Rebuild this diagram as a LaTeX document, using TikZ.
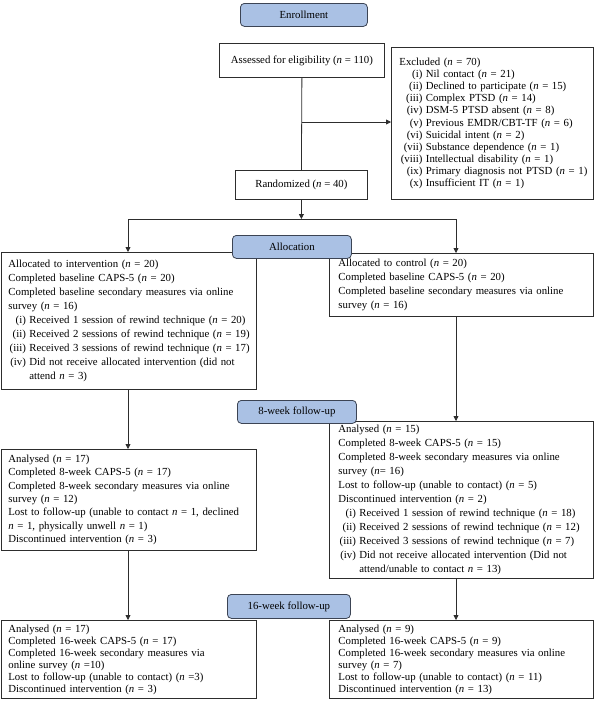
\documentclass[tikz,border=0pt]{standalone}
\usepackage{fontspec}
\setmainfont{Liberation Serif}
\usetikzlibrary{arrows.meta}
\definecolor{lblfill}{RGB}{170,193,228}
\definecolor{lbldraw}{RGB}{60,68,84}
\definecolor{linec}{RGB}{45,45,45}
\newcommand\nn{\textit{n}}
\newcommand\itm[3][17.5pt]{\mbox{\makebox[#1][r]{(#2)}\hspace{3.5pt}#3}}
\newcommand\ind[1][21pt]{\hspace*{#1}}
\begin{document}
\begin{tikzpicture}[x=1pt,y=-1pt,
  box/.style={draw=linec, line width=0.8pt, fill=white, anchor=north west, align=left, inner ysep=0pt},
  cbox/.style={draw=linec, line width=0.8pt, fill=white, anchor=north west, align=center, inner sep=0pt, font=\fontsize{10.8}{13}\selectfont},
  lbl/.style={draw=lbldraw, fill=lblfill, rounded corners=4pt, line width=0.8pt, anchor=north west, inner sep=0pt, font=\fontsize{10.8}{13}\selectfont},
  conn/.style={draw=linec, line width=0.8pt},
  arr/.style={conn, -{Triangle[length=5pt,width=5pt]}}]
\useasboundingbox (0,0) rectangle (594,710);

% enrollment
\node[lbl, minimum width=127, minimum height=23] (enroll) at (240,3) {Enrollment};
\node[cbox, minimum width=165, minimum height=34] (assess) at (219,43) {Assessed for eligibility (\nn{} = 110)};
\node[cbox, minimum width=132, minimum height=29] (random) at (235,170) {Randomized (\nn{} = 40)};
\node[box, inner xsep=7pt, text width=188pt, minimum height=152, font=\fontsize{10.8}{12.1}\selectfont] (excl) at (391,47) {%
\hspace*{1pt}Excluded (\nn{} = 70)\\
\itm[24pt]{i}{Nil contact (\nn{} = 21)}\\
\itm[24pt]{ii}{Declined to participate (\nn{} = 15)}\\
\itm[24pt]{iii}{Complex PTSD (\nn{} = 14)}\\
\itm[24pt]{iv}{DSM-5 PTSD absent (\nn{} = 8)}\\
\itm[24pt]{v}{Previous EMDR/CBT-TF (\nn{} = 6)}\\
\itm[24pt]{vi}{Suicidal intent (\nn{} = 2)}\\
\itm[24pt]{vii}{Substance dependence (\nn{} = 1)}\\
\itm[24pt]{viii}{Intellectual disability (\nn{} = 1)}\\
\itm[24pt]{ix}{Primary diagnosis not PTSD (\nn{} = 1)}\\
\itm[24pt]{x}{Insufficient IT (\nn{} = 1)}};

% allocation
\node[box, inner xsep=7pt, text width=241pt, minimum height=137, font=\fontsize{10.8}{14}\selectfont] (allocL) at (1,252) {%
Allocated to intervention (\nn{} = 20)\\
Completed baseline CAPS-5 (\nn{} = 20)\\
Completed baseline secondary measures via online\\
survey (\nn{} = 16)\\
\itm{i}{Received 1 session of rewind technique (\nn{} = 20)}\\
\itm{ii}{Received 2 sessions of rewind technique (\nn{} = 19)}\\
\itm{iii}{Received 3 sessions of rewind technique (\nn{} = 17)}\\
\itm{iv}{Did not receive allocated intervention (did not}\\
\ind attend \nn{} = 3)};
\node[box, inner xsep=9pt, text width=246pt, minimum height=63, font=\fontsize{10.8}{14}\selectfont] (allocR) at (329,253) {%
Allocated to control (\nn{} = 20)\\
Completed baseline CAPS-5 (\nn{} = 20)\\
Completed baseline secondary measures via online\\
survey (\nn{} = 16)};

% 8-week
\node[box, inner xsep=7pt, text width=241pt, minimum height=101, font=\fontsize{10.8}{13.4}\selectfont] (wkL) at (1,449) {%
Analysed (\nn{} = 17)\\
Completed 8-week CAPS-5 (\nn{} = 17)\\
Completed 8-week secondary measures via online\\
survey (\nn{} = 12)\\
\mbox{Lost to follow-up (unable to contact \nn{} = 1, declined}\\
\nn{} = 1, physically unwell \nn{} = 1)\\
Discontinued intervention (\nn{} = 3)};
\node[box, inner xsep=9pt, text width=246pt, minimum height=157, font=\fontsize{10.8}{14}\selectfont] (wkR) at (329,421) {%
Analysed (\nn{} = 15)\\
Completed 8-week CAPS-5 (\nn{} = 15)\\
Completed 8-week secondary measures via online\\
survey (\nn{}= 16)\\
Lost to follow-up (unable to contact) (\nn{} = 5)\\
Discontinued intervention (\nn{} = 2)\\
\itm{i}{Received 1 session of rewind technique (\nn{} = 18)}\\
\itm{ii}{Received 2 sessions of rewind technique (\nn{} = 12)}\\
\itm{iii}{Received 3 sessions of rewind technique (\nn{} = 7)}\\
\itm{iv}{Did not receive allocated intervention (Did not}\\
\ind attend/unable to contact \nn{} = 13)};

% 16-week
\node[box, inner xsep=7pt, text width=241pt, minimum height=78, font=\fontsize{10.8}{12}\selectfont] (sxL) at (1,620) {%
Analysed (\nn{} = 17)\\
Completed 16-week CAPS-5 (\nn{} = 17)\\
Completed 16-week secondary measures via\\
online survey (\nn{} =10)\\
Lost to follow-up (unable to contact) (\nn{} =3)\\
Discontinued intervention (\nn{} = 3)};
\node[box, inner xsep=9pt, text width=246pt, minimum height=78, font=\fontsize{10.8}{12}\selectfont] (sxR) at (329,620) {%
Analysed (\nn{} = 9)\\
Completed 16-week CAPS-5 (\nn{} = 9)\\
Completed 16-week secondary measures via online\\
survey (\nn{} = 7)\\
Lost to follow-up (unable to contact) (\nn{} = 11)\\
Discontinued intervention (\nn{} = 13)};

% connectors
\coordinate (ybr) at (0,122);
\coordinate (br) at (assess.south |- ybr);
\draw[conn] (assess.south) -- (random.north);
\draw[arr] (br) -- (br -| excl.west);
\coordinate (split) at (random.south |- 0,219);
\coordinate (hl) at (128,219);
\coordinate (hr) at (456,219);
\draw[arr] (random.south) -- (split);
\draw[conn] (hl) -- (hr);
\draw[arr] (hl) -- (hl |- allocL.north);
\draw[arr] (hr) -- (hr |- allocR.north);
\draw[arr] (allocL.south -| hl) -- (wkL.north -| hl);
\draw[arr] (allocR.south -| hr) -- (wkR.north -| hr);
\draw[arr] (wkL.south -| hl) -- (sxL.north -| hl);
\draw[arr] (wkR.south -| hr) -- (sxR.north -| hr);

% stage labels
\node[lbl, minimum width=119, minimum height=23] (lalloc) at (232,235) {Allocation};
\node[lbl, minimum width=119, minimum height=23] (l8) at (237,400) {8-week follow-up};
\node[lbl, minimum width=123, minimum height=24] (l16) at (227,594) {16-week follow-up};
\end{tikzpicture}
\end{document}
